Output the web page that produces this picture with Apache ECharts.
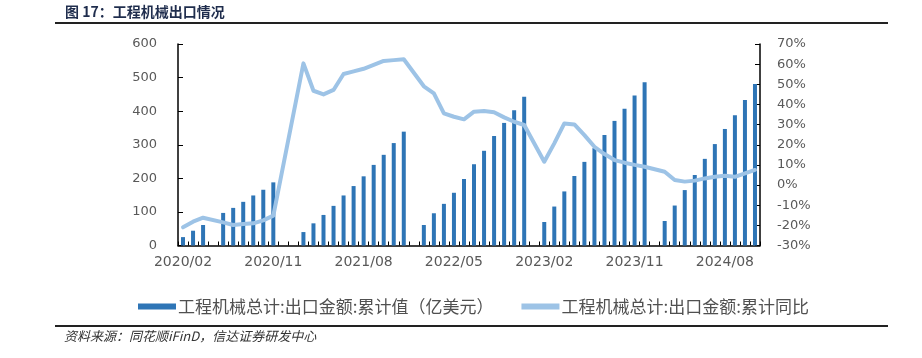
<!DOCTYPE html>
<html>
<head>
<meta charset="utf-8">
<script src="https://cdn.jsdelivr.net/npm/echarts@6/dist/echarts.min.js"></script>
<style>
html,body{margin:0;padding:0;background:#fff;}
#chart{width:922px;height:358px;}
</style>
</head>
<body>
<div id="chart"></div>
<script>
var categories = [
  '2020/02','2020/03','2020/04','2020/05','2020/06','2020/07','2020/08','2020/09','2020/10','2020/11','2020/12',
  '2021/01','2021/02','2021/03','2021/04','2021/05','2021/06','2021/07','2021/08','2021/09','2021/10','2021/11','2021/12',
  '2022/01','2022/02','2022/03','2022/04','2022/05','2022/06','2022/07','2022/08','2022/09','2022/10','2022/11','2022/12',
  '2023/01','2023/02','2023/03','2023/04','2023/05','2023/06','2023/07','2023/08','2023/09','2023/10','2023/11','2023/12',
  '2024/01','2024/02','2024/03','2024/04','2024/05','2024/06','2024/07','2024/08','2024/09','2024/10','2024/11'
];
var exportValue = [
  25, 44, 61, null, 97, 112, 130, 149, 166, 188, null,
  null, 40, 66, 91, 118, 149, 177, 206, 240, 270, 305, 339,
  null, 61, 96, 124, 157, 198, 242, 282, 326, 365, 403, 443,
  null, 70, 116, 161, 207, 249, 290, 329, 371, 407, 447, 486,
  null, 73, 119, 165, 210, 258, 302, 347, 388, 433, 481
];
var exportYoY = [
  -21, -18.2, -16.2, null, -18.5, -19.8, -19.3, -19, -17.5, -15.2, null,
  null, 60.4, 46.8, 45, 47.2, 55.1, 56.4, 57.7, 59.6, 61.6, 62, 62.4,
  null, 49, 45.5, 35.6, 33.9, 32.6, 36.4, 36.7, 36.1, 33.6, 31.4, 29.8,
  null, 11.6, 20.7, 30.6, 30.1, 24.8, 19, 15.4, 12.4, 11.1, 10, 9.1,
  null, 6.6, 2.5, 1.7, 2.2, 3.3, 4.1, 4.6, 4.1, 5.8, 7.5
];
var seriesNames = ['工程机械总计:出口金额:累计值（亿美元）', '工程机械总计:出口金额:累计同比'];
var titleText = '图 17：工程机械出口情况';
var sourceText = '资料来源：同花顺iFinD，信达证券研发中心';

var chart = echarts.init(document.getElementById('chart'), null, {renderer: 'canvas'});
var axisFont = 'DejaVu Sans';
var cjkFont = '"Noto Sans CJK SC", sans-serif';
chart.setOption({
  animation: false,
  backgroundColor: '#ffffff',
  grid: {left: 178, right: 162, top: 44, bottom: 112.5, containLabel: false},
  legend: {
    left: 133, top: 293,
    itemWidth: 38, itemHeight: 6, itemGap: 28,
    icon: 'rect',
    textStyle: {fontFamily: cjkFont, fontSize: 17, color: '#505050', padding: [0,0,0,-3]},
    data: [
      {name: seriesNames[0], itemStyle: {color: '#2e75b6'}},
      {name: seriesNames[1], itemStyle: {color: '#9dc3e6'}}
    ]
  },
  xAxis: {
    type: 'category',
    data: categories,
    boundaryGap: true,
    axisLine: {lineStyle: {color: '#000', width: 1.5}},
    axisTick: {show: true, inside: true, length: 4, interval: 0, lineStyle: {color: '#000'}},
    axisLabel: {interval: 8, margin: 10, fontFamily: axisFont, fontSize: 14, color: '#595959'}
  },
  yAxis: [
    {
      type: 'value', min: 0, max: 600, interval: 100,
      axisLine: {show: true, lineStyle: {color: '#000', width: 1.5}},
      axisTick: {show: true, inside: true, length: 5, lineStyle: {color: '#000'}},
      splitLine: {show: false},
      axisLabel: {margin: 21, fontFamily: axisFont, fontSize: 13, color: '#595959'}
    },
    {
      type: 'value', min: -30, max: 70, interval: 10,
      position: 'right',
      axisLine: {show: true, lineStyle: {color: '#000', width: 1.5}},
      axisTick: {show: true, inside: true, length: 5, lineStyle: {color: '#000'}},
      splitLine: {show: false},
      axisLabel: {margin: 17, fontFamily: axisFont, fontSize: 13, color: '#595959', formatter: '{value}%'}
    }
  ],
  series: [
    {
      name: seriesNames[0], type: 'bar', yAxisIndex: 0,
      data: exportValue, barWidth: 4,
      itemStyle: {color: '#2e75b6'}
    },
    {
      name: seriesNames[1], type: 'line', yAxisIndex: 1,
      data: exportYoY, connectNulls: true, symbol: 'none', smooth: false,
      lineStyle: {color: '#9dc3e6', width: 4, cap: 'round', join: 'round'},
      itemStyle: {color: '#9dc3e6'},
      z: 5
    }
  ],
  graphic: [
    {type: 'text', left: 65, top: 5, style: {text: titleText, font: 'bold 14px ' + cjkFont, fill: '#1f2d4d'}},
    {type: 'line', shape: {x1: 55, y1: 23, x2: 888, y2: 23}, style: {stroke: '#222', lineWidth: 2}},
    {type: 'line', shape: {x1: 55, y1: 326, x2: 888, y2: 326}, style: {stroke: '#222', lineWidth: 2}},
    {type: 'text', left: 64, top: 330, style: {text: sourceText, font: 'italic 13px ' + cjkFont, fill: '#333'}}
  ]
});
</script>
</body>
</html>
